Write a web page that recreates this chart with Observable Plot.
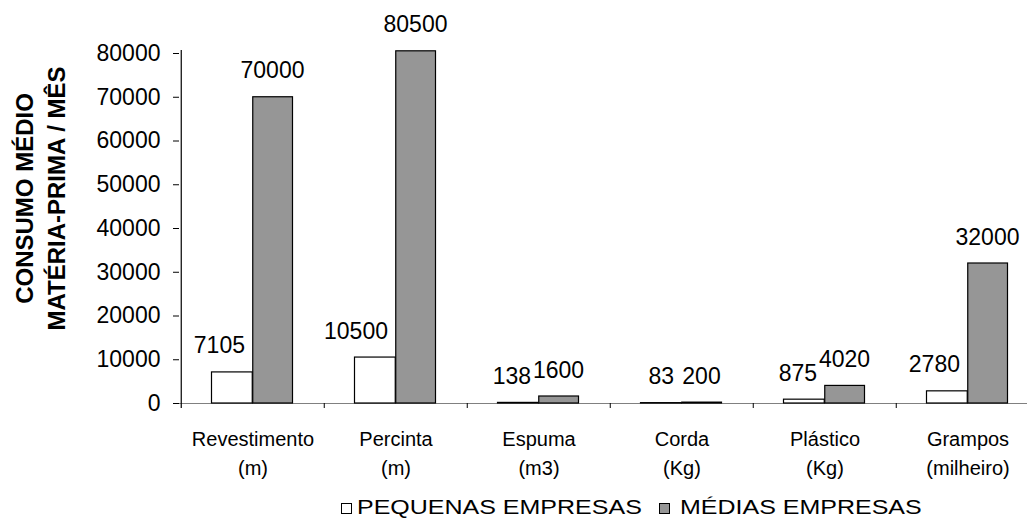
<!DOCTYPE html>
<html>
<head>
<meta charset="utf-8">
<script src="https://cdn.jsdelivr.net/npm/d3@7"></script>
<script src="https://cdn.jsdelivr.net/npm/@observablehq/plot@0.6"></script>
<style>
  html, body { margin: 0; padding: 0; background: #fff; }
  #wrap { position: relative; width: 1027px; height: 518px; overflow: hidden; font-family: "Liberation Sans", Arial, sans-serif; }
  #legend { position: absolute; left: 0; top: 496px; width: 1027px; height: 22px; font-size: 20px; line-height: 23px; color: #000; white-space: nowrap; }
  .sw { position: absolute; top: 7px; width: 11px; height: 11px; box-sizing: border-box; border: 1px solid #000; }
  .lbl { position: absolute; top: 0; transform: scaleX(1.25); transform-origin: 0 50%; }
</style>
</head>
<body>
<div id="wrap"><div id="chart"></div><div id="legend"></div></div>
<script>
// ---- data ----
const categories = ["Revestimento\n(m)", "Percinta\n(m)", "Espuma\n(m3)", "Corda\n(Kg)", "Plástico\n(Kg)", "Grampos\n(milheiro)"];
const seriesNames = ["PEQUENAS EMPRESAS", "MÉDIAS EMPRESAS"];
const pequenas = [7105, 10500, 138, 83, 875, 2780];
const medias = [70000, 80500, 1600, 200, 4020, 32000];
const yTicks = [0, 10000, 20000, 30000, 40000, 50000, 60000, 70000, 80000];
const yTitle = "CONSUMO MÉDIO\nMATÉRIA-PRIMA / MÊS";
const seriesColors = ["#ffffff", "#969696"];

// ---- layout ----
const W = 1027, H = 480;
const mL = 179, mT = 53, mB = 77;
const xRange = [179, 1040];
const bw = (xRange[1] - xRange[0]) / categories.length;

const rows = categories.map((c, i) => ({category: c, pequenas: pequenas[i], medias: medias[i]}));

const chart = Plot.plot({
  width: W,
  height: H,
  marginLeft: mL,
  marginRight: 0,
  marginTop: mT,
  marginBottom: mB,
  style: {fontFamily: "'Liberation Sans', Arial, sans-serif", color: "#000", background: "#fff", overflow: "visible"},
  x: {domain: categories, range: xRange, padding: 0, label: null},
  y: {domain: [0, 80000], label: null},
  marks: [
    // x axis line
    Plot.ruleY([0], {stroke: "#808080", strokeWidth: 1.2}),
    // y axis line (left edge of first category)
    Plot.ruleX([categories[0]], {dx: -bw / 2, insetTop: -3, insetBottom: -5, stroke: "#000", strokeWidth: 1.2}),
    // category boundary ticks
    Plot.ruleX(categories.slice(1), {dx: -bw / 2, y1: 0, y2: 0, insetBottom: -5, stroke: "#000"}),
    // bars
    Plot.barY(rows, {x: "category", y: "pequenas", fill: seriesColors[0], stroke: "#000", strokeWidth: 1.2, insetLeft: 30.5, insetRight: bw / 2}),
    Plot.barY(rows, {x: "category", y: "medias", fill: seriesColors[1], stroke: "#000", strokeWidth: 1.2, insetLeft: bw / 2, insetRight: 31.5}),
    // data labels
    Plot.text(rows, {x: "category", y: "pequenas", text: d => String(d.pequenas), textAnchor: "end", lineAnchor: "bottom", dx: -8, dy: -19, fontSize: 23, fill: "#000"}),
    Plot.text(rows, {x: "category", y: "medias", text: d => String(d.medias), lineAnchor: "bottom", dx: 19.5, dy: -19, fontSize: 23, fill: "#000"}),
    // axes
    Plot.axisY({ticks: yTicks, tickFormat: d => String(d), tickSize: 6, tickPadding: 13, fontSize: 23, stroke: "#000", label: null}),
    Plot.axisX({tickSize: 0, tickPadding: 22, fontSize: 20, lineHeight: 1.45, label: null}),
    // y title
    Plot.text([yTitle], {frameAnchor: "left", text: d => d, rotate: -90, dx: -140.5, dy: -30, fontSize: 24, fontWeight: "bold", lineHeight: 1.3, textAnchor: "middle", lineAnchor: "middle", fill: "#000"})
  ]
});
document.getElementById("chart").appendChild(chart);

// legend
const legend = document.getElementById("legend");
const swLeft = [341, 659];
const lblLeft = [357, 680];
seriesNames.forEach((name, i) => {
  const sw = document.createElement("div");
  sw.className = "sw";
  sw.style.left = swLeft[i] + "px";
  sw.style.background = seriesColors[i];
  const label = document.createElement("span");
  label.className = "lbl";
  label.style.left = lblLeft[i] + "px";
  label.textContent = name;
  legend.appendChild(sw);
  legend.appendChild(label);
});
</script>
</body>
</html>
